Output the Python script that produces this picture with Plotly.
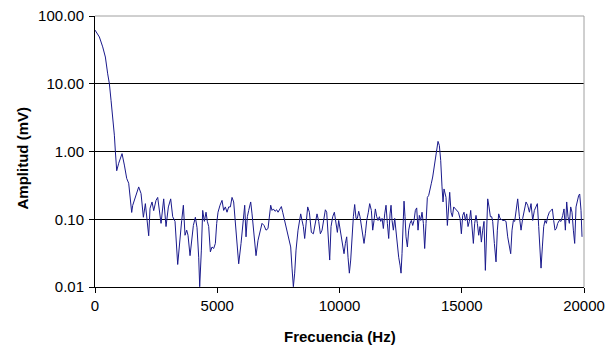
import plotly.graph_objects as go

# Frequency (Hz) and amplitude (mV)
freq = [
    0, 179, 315, 424, 519, 588, 656, 724, 792, 833, 888, 969, 1106, 1201, 1297, 1378, 1433,
    1501, 1542, 1651, 1787, 1883, 1978, 2060, 2128, 2196, 2251, 2333, 2401, 2496, 2564, 2633, 2701,
    2810, 2905, 3001, 3096, 3178, 3273, 3382, 3478, 3546, 3614, 3682, 3750, 3805, 3887, 3968, 4023,
    4105, 4173, 4241, 4282, 4350, 4405, 4473, 4541, 4595, 4650, 4718, 4786, 4854, 4923, 4977, 5032,
    5113, 5195, 5263, 5331, 5400, 5468, 5536, 5604, 5672,
    5796, 5877, 5973, 6041, 6123, 6177, 6232, 6286, 6368, 6423, 6504, 6586, 6668, 6750, 6831, 6913,
    6995, 7077, 7131, 7186, 7240, 7295, 7363, 7431, 7486, 7567, 7622, 7677, 7758, 7840, 7922, 8004,
    8058, 8113, 8167, 8222, 8304, 8358, 8413, 8467, 8522, 8576,
    8699, 8768, 8849, 8931, 9013, 9081, 9149, 9217, 9286, 9354, 9422, 9476, 9545, 9599, 9654, 9722,
    9790, 9858, 9913, 9967, 10022, 10103, 10185, 10240, 10294, 10349, 10403, 10458, 10512, 10567,
    10621, 10676, 10730, 10785, 10839, 10894, 10948, 11003, 11057, 11112, 11180, 11235, 11303,
    11358, 11413, 11467, 11522, 11576, 11631, 11685, 11740, 11794, 11849, 11903, 11958, 12012, 12067,
    12108, 12149, 12203, 12258, 12312, 12367, 12421, 12476, 12517, 12557, 12598, 12639, 12680, 12721,
    12776, 12830, 12885, 12939, 12994, 13048, 13103, 13157, 13212, 13266, 13321, 13375, 13430, 13484,
    13539, 13593, 13648, 13702, 13757, 13811, 13866, 13920, 13975, 14029, 14084, 14139, 14193, 14234,
    14275,
    14357, 14412, 14466, 14507, 14562, 14616, 14671, 14739, 14807, 14862, 14930, 14984, 15039, 15093,
    15148, 15202, 15257, 15311, 15366, 15420, 15475, 15529, 15584, 15639, 15693, 15748, 15802, 15857,
    15911, 15966, 16020, 16061, 16116, 16170, 16225, 16266, 16334, 16402, 16456, 16511, 16565, 16620,
    16674, 16743, 16811, 16879, 16947, 17002, 17056, 17111, 17165,
    17220, 17288, 17357, 17425, 17493, 17561, 17629, 17697, 17766, 17834, 17902, 17970, 18038, 18093,
    18147, 18202, 18243, 18297, 18352, 18406, 18461, 18515, 18583, 18651, 18706, 18760, 18815, 18870,
    18924, 18992, 19060, 19129, 19183, 19238, 19292, 19347, 19401, 19456, 19510, 19565, 19619, 19674,
    19728, 19783, 19824, 19878, 19919,
]

amplitude = [
    62, 49, 35, 24.8, 14, 10, 5.7, 3.4, 1.74, 1.0, 0.52, 0.67, 0.93, 0.63, 0.40, 0.34, 0.22,
    0.126, 0.16, 0.21, 0.30, 0.24, 0.107, 0.17, 0.10, 0.057, 0.145, 0.18, 0.134, 0.19, 0.21, 0.129, 0.087,
    0.20, 0.078, 0.152, 0.20, 0.109, 0.093, 0.0215, 0.058, 0.096, 0.161, 0.058, 0.069, 0.058, 0.029, 0.058, 0.081,
    0.107, 0.075, 0.0275, 0.0101, 0.035, 0.135, 0.093, 0.127, 0.093, 0.078, 0.033, 0.039, 0.037, 0.044, 0.087, 0.127,
    0.161, 0.19, 0.135, 0.152, 0.127, 0.152, 0.152, 0.21, 0.18,
    0.055, 0.022, 0.044, 0.087, 0.161, 0.055, 0.109, 0.135, 0.18, 0.12, 0.055, 0.029, 0.049, 0.069, 0.087, 0.081,
    0.069, 0.073, 0.114, 0.161, 0.135, 0.142, 0.131, 0.138, 0.127, 0.142, 0.154, 0.127, 0.096, 0.073, 0.055, 0.039,
    0.019, 0.0101, 0.016, 0.035, 0.069, 0.096, 0.12, 0.096, 0.078, 0.052,
    0.152, 0.127, 0.064, 0.061, 0.087, 0.12, 0.093, 0.061, 0.069, 0.103, 0.138, 0.127, 0.061, 0.025, 0.078, 0.109,
    0.127, 0.081, 0.064, 0.096, 0.073, 0.049, 0.031, 0.044, 0.055, 0.0275, 0.016, 0.025, 0.061, 0.109,
    0.165, 0.103, 0.103, 0.131, 0.109, 0.078, 0.058, 0.044, 0.061, 0.096, 0.127, 0.17, 0.135,
    0.069, 0.096, 0.142, 0.109, 0.096, 0.109, 0.093, 0.103, 0.073, 0.12, 0.161, 0.087, 0.052, 0.12,
    0.161, 0.096, 0.069, 0.103, 0.061, 0.044, 0.0275, 0.021, 0.016, 0.031, 0.069, 0.185, 0.109, 0.055,
    0.039, 0.069, 0.087, 0.096, 0.081, 0.096, 0.135, 0.147, 0.069, 0.114, 0.096, 0.127, 0.087, 0.037,
    0.087, 0.21, 0.225, 0.267, 0.34, 0.42, 0.57, 0.83, 1.17, 1.41, 1.23, 0.74, 0.30, 0.18,
    0.28,
    0.21, 0.081, 0.17, 0.25, 0.127, 0.109, 0.152, 0.142, 0.135, 0.127, 0.103, 0.061, 0.114, 0.127,
    0.096, 0.12, 0.078, 0.093, 0.135, 0.069, 0.044, 0.087, 0.114, 0.087, 0.058, 0.078, 0.046, 0.069,
    0.093, 0.0176, 0.055, 0.2, 0.152, 0.109, 0.109, 0.093, 0.044, 0.0235, 0.069, 0.12, 0.103, 0.1,
    0.096, 0.096, 0.093, 0.055, 0.037, 0.031, 0.069, 0.096, 0.093,
    0.142, 0.2, 0.109, 0.069, 0.103, 0.135, 0.18, 0.161, 0.127, 0.17, 0.096, 0.135, 0.152, 0.17,
    0.078, 0.026, 0.019, 0.039, 0.078, 0.096, 0.087, 0.109, 0.127, 0.135, 0.142, 0.096, 0.069, 0.073,
    0.087, 0.096, 0.093, 0.114, 0.142, 0.069, 0.18, 0.109, 0.087, 0.152, 0.127, 0.069, 0.044, 0.152,
    0.19, 0.225, 0.236, 0.135, 0.055,
]

x_ticks = [0, 5000, 10000, 15000, 20000]
y_ticks = [0.01, 0.1, 1, 10, 100]
y_tick_text = ["0.01", "0.10", "1.00", "10.00", "100.00"]

FONT = "Liberation Sans, Arial, sans-serif"

fig = go.Figure()
fig.add_trace(go.Scatter(
    x=freq, y=amplitude, mode="lines",
    line=dict(color="#1a1a8c", width=1),
    showlegend=False,
))

# The page body adds an 8 px offset, so the figure is sized to the remaining window
fig.update_layout(
    width=607, height=341,
    margin=dict(l=87, r=31, t=8, b=62, autoexpand=False),
    paper_bgcolor="white", plot_bgcolor="white",
    font=dict(family=FONT, size=15, color="black"),
    xaxis=dict(
        range=[0, 20000], tickvals=x_ticks, ticktext=[str(v) for v in x_ticks],
        ticks="outside", ticklen=5, tickcolor="black", tickwidth=1,
        showline=True, linecolor="black", linewidth=1,
        showgrid=False, zeroline=False, automargin=False,
        ticklabeloverflow="allow",
    ),
    yaxis=dict(
        type="log", range=[-2, 2], tickvals=y_ticks, ticktext=y_tick_text,
        ticks="outside", ticklen=5, tickcolor="black", tickwidth=1,
        showline=True, linecolor="black", linewidth=1,
        showgrid=True, gridcolor="black", gridwidth=1, zeroline=False,
        automargin=False, ticklabelstandoff=2, ticklabeloverflow="allow",
    ),
    shapes=[
        dict(type="line", xref="paper", yref="paper", x0=0, x1=1, y0=1, y1=1,
             line=dict(color="#a0a0a0", width=1), layer="above"),
        dict(type="line", xref="paper", yref="paper", x0=1, x1=1, y0=0, y1=1,
             line=dict(color="#a0a0a0", width=1), layer="above"),
    ],
    annotations=[
        dict(text="<b>Frecuencia (Hz)</b>", xref="paper", yref="paper", x=0.5, y=0,
             xanchor="center", yanchor="middle", yshift=-49, showarrow=False,
             font=dict(size=15)),
        dict(text="<b>Amplitud (mV)</b>", xref="paper", yref="paper", x=0, y=0.5,
             xanchor="center", yanchor="middle", xshift=-73, yshift=-7, textangle=-90,
             showarrow=False, font=dict(size=15)),
    ],
)

fig.write_html("out.html")
